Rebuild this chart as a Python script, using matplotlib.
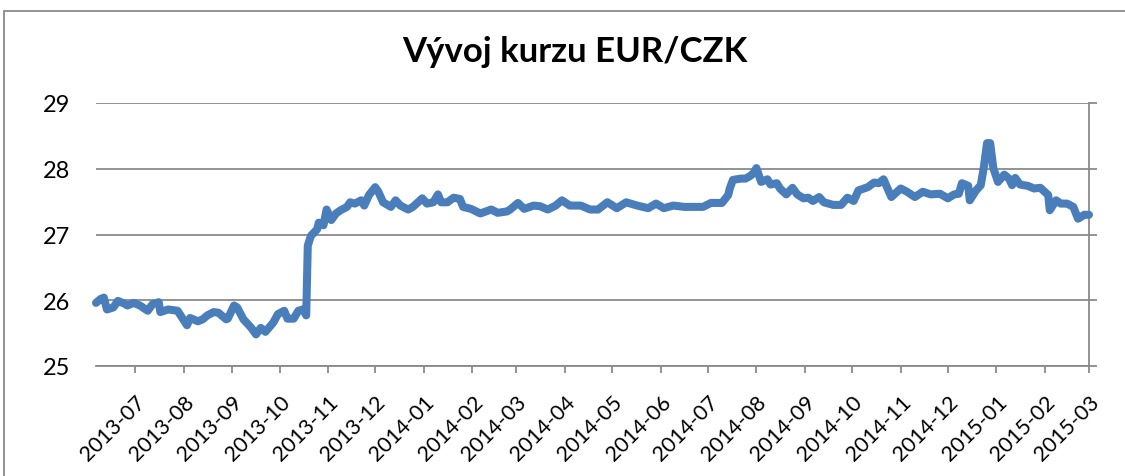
import matplotlib
matplotlib.use("Agg")
import matplotlib.pyplot as plt
from matplotlib.patches import Rectangle
import pandas as pd

title = "Vývoj kurzu EUR/CZK"

dates = [
    "2013-06-06", "2013-06-09", "2013-06-11", "2013-06-13", "2013-06-17", "2013-06-20",
    "2013-06-24", "2013-06-26", "2013-06-30", "2013-07-04", "2013-07-09", "2013-07-12",
    "2013-07-16", "2013-07-17", "2013-07-22", "2013-07-28", "2013-07-31", "2013-08-03",
    "2013-08-05", "2013-08-10", "2013-08-13", "2013-08-16", "2013-08-20", "2013-08-23",
    "2013-08-28", "2013-08-29", "2013-09-02", "2013-09-04", "2013-09-08", "2013-09-13",
    "2013-09-16", "2013-09-19", "2013-09-22", "2013-09-27", "2013-09-30", "2013-10-04",
    "2013-10-06", "2013-10-10", "2013-10-13", "2013-10-16", "2013-10-18", "2013-10-19",
    "2013-10-21", "2013-10-25", "2013-10-26", "2013-10-29", "2013-10-31", "2013-11-03",
    "2013-11-06", "2013-11-09", "2013-11-13", "2013-11-15", "2013-11-18", "2013-11-22",
    "2013-11-24", "2013-11-27", "2013-12-01", "2013-12-03", "2013-12-06", "2013-12-11",
    "2013-12-14", "2013-12-17", "2013-12-22", "2013-12-25", "2013-12-31", "2014-01-03",
    "2014-01-07", "2014-01-10", "2014-01-12", "2014-01-16", "2014-01-20", "2014-01-24",
    "2014-01-26", "2014-01-31", "2014-02-06", "2014-02-13", "2014-02-17", "2014-02-23",
    "2014-02-25", "2014-03-02", "2014-03-06", "2014-03-12", "2014-03-16", "2014-03-21",
    "2014-03-26", "2014-03-30", "2014-04-04", "2014-04-11", "2014-04-17", "2014-04-22",
    "2014-04-28", "2014-05-04", "2014-05-10", "2014-05-17", "2014-05-24", "2014-05-29",
    "2014-06-03", "2014-06-09", "2014-06-16", "2014-06-22", "2014-06-28", "2014-07-03",
    "2014-07-10", "2014-07-14", "2014-07-15", "2014-07-17", "2014-07-22", "2014-07-25",
    "2014-07-28", "2014-07-30", "2014-08-01", "2014-08-04", "2014-08-08", "2014-08-10",
    "2014-08-14", "2014-08-16", "2014-08-20", "2014-08-24", "2014-08-27", "2014-08-31",
    "2014-09-03", "2014-09-06", "2014-09-10", "2014-09-13", "2014-09-19", "2014-09-24",
    "2014-09-28", "2014-10-02", "2014-10-05", "2014-10-11", "2014-10-15", "2014-10-18",
    "2014-10-21", "2014-10-26", "2014-11-01", "2014-11-05", "2014-11-10", "2014-11-15",
    "2014-11-20", "2014-11-26", "2014-12-01", "2014-12-05", "2014-12-08", "2014-12-10",
    "2014-12-14", "2014-12-15", "2014-12-19", "2014-12-22", "2014-12-24", "2014-12-26",
    "2014-12-28", "2014-12-30", "2015-01-02", "2015-01-06", "2015-01-09", "2015-01-11",
    "2015-01-13", "2015-01-16", "2015-01-21", "2015-01-25", "2015-01-29", "2015-02-03",
    "2015-02-04", "2015-02-08", "2015-02-11", "2015-02-15", "2015-02-19", "2015-02-22",
    "2015-02-26", "2015-03-01",
]

rates = [
    25.96, 26.02, 26.04, 25.86, 25.89, 25.99,
    25.95, 25.92, 25.96, 25.92, 25.84, 25.94,
    25.97, 25.82, 25.86, 25.84, 25.73, 25.62,
    25.73, 25.68, 25.71, 25.77, 25.82, 25.81,
    25.71, 25.72, 25.92, 25.89, 25.71, 25.58,
    25.48, 25.58, 25.52, 25.66, 25.79, 25.84,
    25.72, 25.72, 25.84, 25.86, 25.77, 26.83,
    26.98, 27.08, 27.18, 27.14, 27.38, 27.22,
    27.32, 27.37, 27.42, 27.49, 27.47, 27.52,
    27.44, 27.60, 27.72, 27.65, 27.49, 27.42,
    27.52, 27.44, 27.38, 27.42, 27.55, 27.47,
    27.49, 27.61, 27.49, 27.49, 27.56, 27.54,
    27.42, 27.39, 27.32, 27.38, 27.33, 27.35,
    27.38, 27.48, 27.39, 27.44, 27.43, 27.38,
    27.44, 27.52, 27.44, 27.44, 27.38, 27.38,
    27.49, 27.40, 27.49, 27.44, 27.40, 27.47,
    27.40, 27.44, 27.42, 27.42, 27.42, 27.48,
    27.48, 27.60, 27.70, 27.83, 27.85, 27.85,
    27.89, 27.93, 28.01, 27.80, 27.84, 27.76,
    27.78, 27.70, 27.61, 27.71, 27.61, 27.55,
    27.56, 27.51, 27.57, 27.49, 27.45, 27.45,
    27.56, 27.51, 27.67, 27.72, 27.79, 27.78,
    27.84, 27.57, 27.70, 27.65, 27.57, 27.65,
    27.61, 27.62, 27.55, 27.61, 27.62, 27.78,
    27.74, 27.52, 27.67, 27.75, 28.03, 28.39,
    28.39, 28.01, 27.80, 27.91, 27.85, 27.75,
    27.86, 27.76, 27.74, 27.70, 27.71, 27.60,
    27.37, 27.52, 27.47, 27.47, 27.42, 27.24,
    27.30, 27.30,
]

y_ticks = [25, 26, 27, 28, 29]
month_ticks = pd.date_range("2013-07-01", "2015-03-01", freq="MS")
tick_labels = [d.strftime("%Y-%m") for d in month_ticks]

x = pd.to_datetime(dates)

plt.rcParams["font.family"] = ["Lato", "DejaVu Sans"]

fig = plt.figure(figsize=(11.25, 4.77), dpi=100)
ax = fig.add_axes([96 / 1125, 1 - 367 / 477, (1089 - 96) / 1125, (367 - 104) / 477])

grid_c = "#8a8a8a"
ax.plot(x, rates, color="#4a7ebb", lw=5.8, solid_capstyle="round",
        solid_joinstyle="round", zorder=3, clip_on=False)

ax.set_ylim(25, 29)
ax.set_yticks(y_ticks)
ax.set_yticklabels([str(v) for v in y_ticks])
ax.set_xlim(x[0], x[-1])
ax.set_xticks(month_ticks)
ax.set_xticklabels(tick_labels, rotation=45, ha="right", va="top", rotation_mode="anchor")

ax.yaxis.grid(True, color=grid_c, lw=1.3)
ax.set_axisbelow(True)
for s in ["top", "left"]:
    ax.spines[s].set_visible(False)
ax.spines["bottom"].set_color(grid_c)
ax.spines["bottom"].set_linewidth(1.3)
ax.spines["right"].set_color(grid_c)
ax.spines["right"].set_linewidth(1.3)

ax.tick_params(axis="y", left=False, right=True, labelleft=True, labelright=False,
               length=6, width=1.3, color=grid_c, pad=12.5, labelsize=17)
ax.tick_params(axis="x", length=5, width=1.3, color=grid_c, pad=13, labelsize=15.5)

fig.text(575 / 1125, 1 - 52 / 477, title, ha="center", va="center",
         fontsize=25, fontweight="bold")

fig.patches.append(Rectangle((4 / 1125, -0.1), 1.2, 1 - 12 / 477 + 0.1,
                             transform=fig.transFigure, fill=False,
                             edgecolor=grid_c, lw=1.3, clip_on=False))

fig.savefig("out.png", dpi=100)
